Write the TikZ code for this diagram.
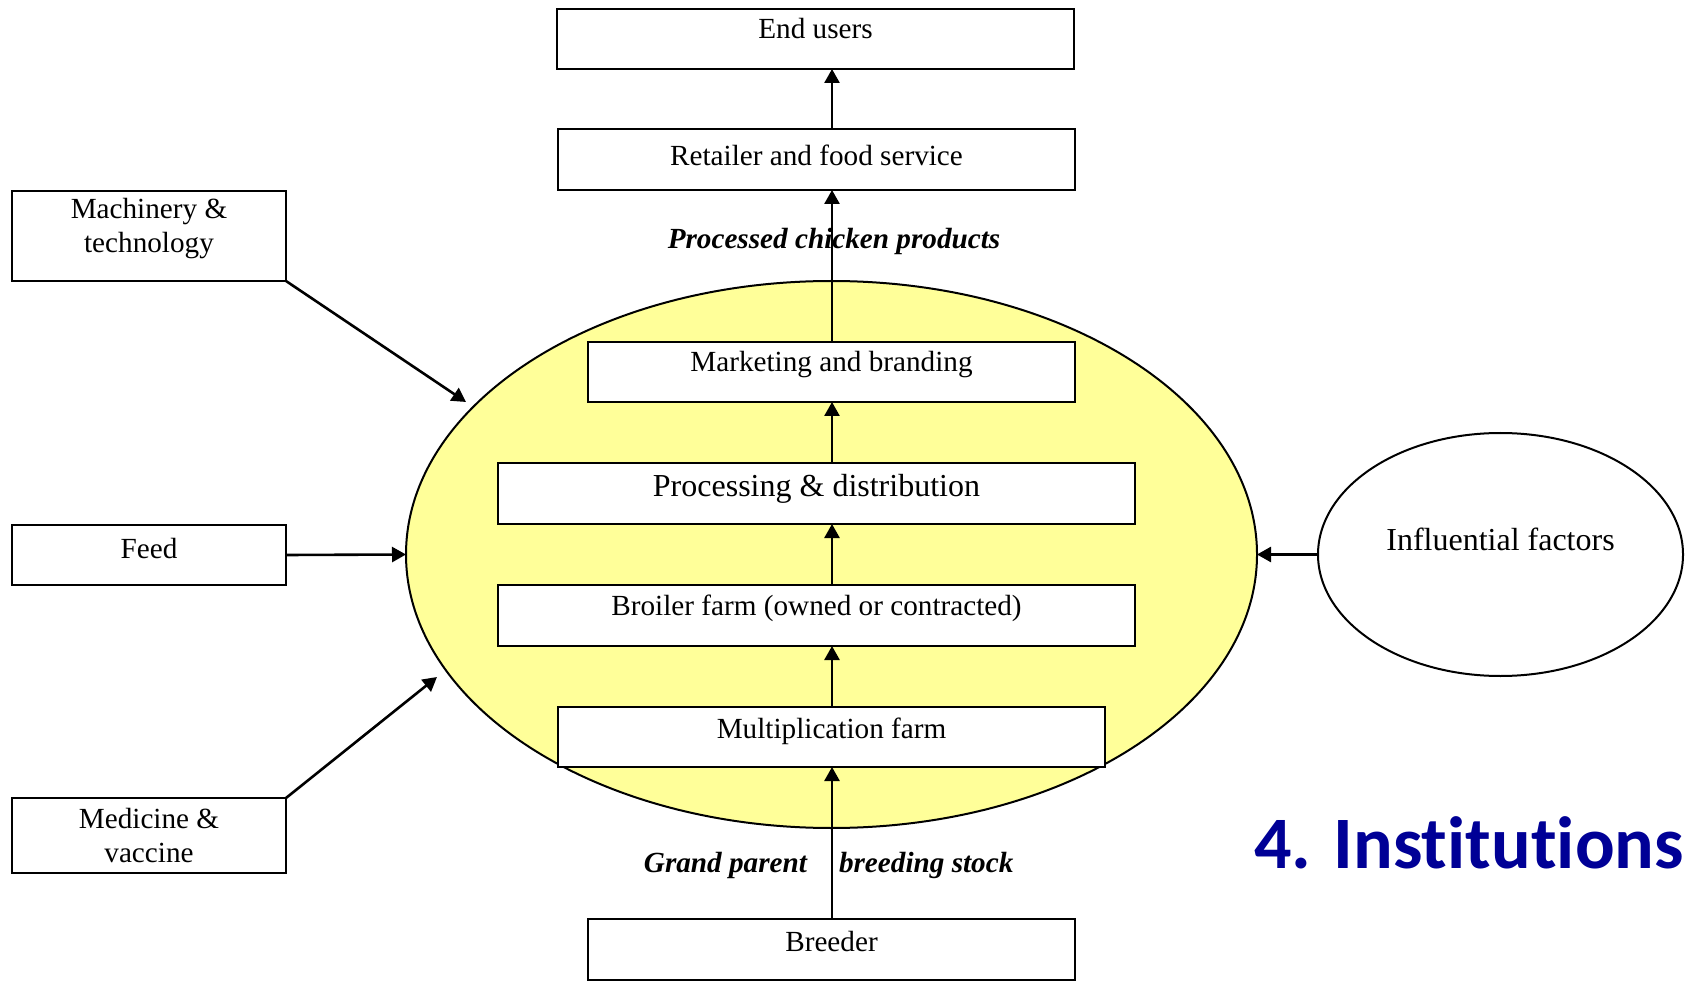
\documentclass[tikz,border=0pt]{standalone}
\usepackage{fontspec}
\setmainfont{Liberation Serif}
\newfontfamily\headfont[Ligatures=NoCommon]{Carlito}
\usetikzlibrary{shapes.geometric,arrows.meta}
\definecolor{coreyellow}{RGB}{255,255,153}
\definecolor{headblue}{RGB}{0,0,150}
\newcommand\boxfont{\fontsize{14.6pt}{17pt}\selectfont}
\newcommand\bigboxfont{\fontsize{16pt}{19pt}\selectfont}
\begin{document}
\begin{tikzpicture}[
  x=0.5pt, y=-0.5pt,
  line width=1pt,
  tip/.tip={Triangle[length=7pt,width=7.5pt]},
  flow/.style={-tip, line width=1.3pt},
  stage/.style={draw, fill=white, rectangle, inner sep=0pt, outer sep=0pt,
                anchor=north, font=\boxfont, align=center},
  lbl/.style={inner sep=0pt, font=\boxfont\bfseries\itshape},
]
\useasboundingbox (0,0) rectangle (1690,983);

% central value chain ellipse
\node[ellipse, draw, fill=coreyellow, inner sep=0pt, outer sep=0pt,
      minimum width=425.5pt, minimum height=273.5pt] (core) at (831.5,554.5) {};

% external influence ellipse
\node[ellipse, draw, fill=white, inner sep=0pt, outer sep=0pt,
      minimum width=182.5pt, minimum height=121.5pt,
      font=\bigboxfont, text height=5pt, text depth=9.5pt] (infl) at (1500.5,554.5)
      {Influential factors};

% stages of the chain
\node[stage, minimum width=258.5pt, text height=15pt, text depth=15pt]   (endusers) at (815.5,9)   {End users};
\node[stage, minimum width=258.5pt, text height=18.5pt, text depth=12pt] (retail)   at (816.5,129) {Retailer and food service};
\node[stage, minimum width=243.5pt, text height=15pt, text depth=15pt]   (market)   at (831.5,342) {Marketing and branding};
\node[stage, minimum width=318.5pt, text height=16.5pt, text depth=14pt, font=\bigboxfont] (process) at (816.5,463) {Processing \& distribution};
\node[stage, minimum width=318.5pt, text height=15pt, text depth=15.5pt] (broiler)  at (816.5,585) {Broiler farm (owned or contracted)};
\node[stage, minimum width=273.5pt, text height=15.5pt, text depth=14.5pt] (multi)  at (831.5,707) {Multiplication farm};
\node[stage, minimum width=243.5pt, text height=16pt, text depth=14.5pt] (breeder)  at (831.5,919) {Breeder};

% inputs
\node[stage, minimum width=137pt, text height=14pt, text depth=31pt] (mach) at (149,191)
  {\begin{tabular}[t]{@{}c@{}}Machinery \&\\ technology\end{tabular}};
\node[stage, minimum width=137pt, text height=16.5pt, text depth=13.5pt] (feed) at (149,525) {Feed};
\node[stage, minimum width=137pt, text height=15pt, text depth=22.5pt] (med) at (149,798)
  {\begin{tabular}[t]{@{}c@{}}Medicine \&\\ vaccine\end{tabular}};

% flow labels
\node[lbl, anchor=base] (prodlbl) at (834,249) {Processed chicken products};
\node[lbl, anchor=base east] (gplbl) at (808,872) {Grand parent};
\node[lbl, anchor=base west] (bslbl) at (838,872) {breeding stock};

% heading
\node[anchor=base west, inner sep=0pt, text=headblue,
      font=\headfont\fontsize{37pt}{44pt}\selectfont\bfseries] (title) at (1253,868) {4. Institutions};

% connectors
\coordinate (spine) at (832,0);
\coordinate (machtip) at (466,402);
\coordinate (medtip) at (437,677);
\draw[flow] (retail.north -| spine)  -- (endusers.south -| spine);
\draw[flow] (market.north -| spine)  -- (retail.south -| spine);
\draw[flow] (process.north -| spine) -- (market.south -| spine);
\draw[flow] (broiler.north -| spine) -- (process.south -| spine);
\draw[flow] (multi.north -| spine)   -- (broiler.south -| spine);
\draw[flow] (breeder.north -| spine) -- (multi.south -| spine);
\draw[flow] (mach.south east) -- (machtip);
\draw[flow] (feed.east) -- (core.west);
\draw[flow] (med.north east) -- (medtip);
\draw[flow] (infl.west) -- (core.east);
\end{tikzpicture}
\end{document}
